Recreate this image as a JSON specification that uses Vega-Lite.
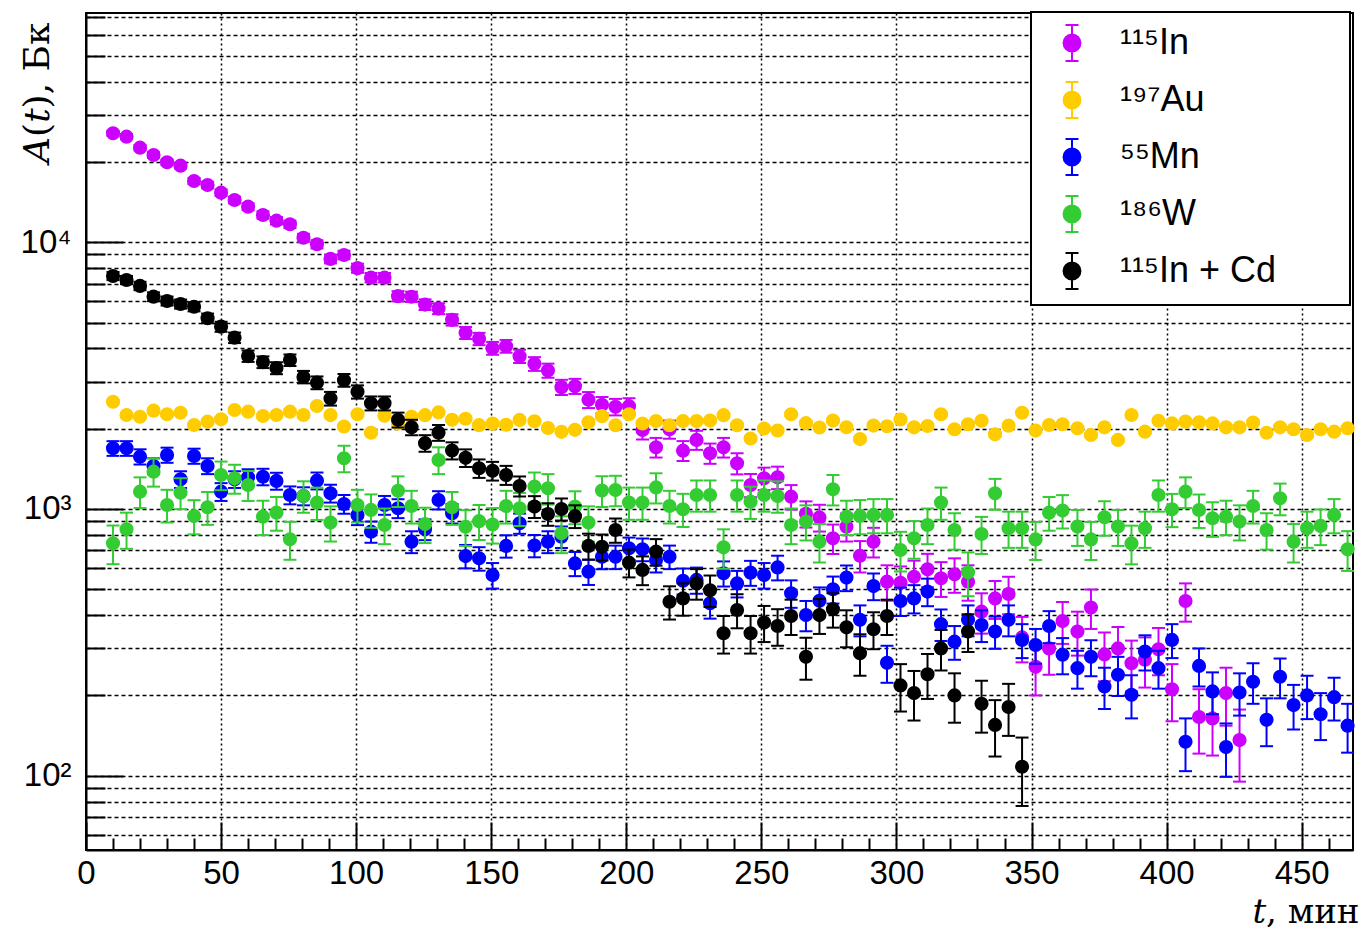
{
  "$schema": "https://vega.github.io/schema/vega-lite/v6.json",
  "width": 1267,
  "height": 837,
  "autosize": {"type": "none"},
  "padding": {"left": 86, "top": 13, "right": 15, "bottom": 79},
  "background": "white",
  "config": {
    "view": {"stroke": "black", "strokeWidth": 2},
    "font": "Liberation Sans"
  },
  "data": {"values": [
    {"s":"In","t":10,"v":25630,"e":560},{"s":"In","t":15,"v":24890,"e":553},{"s":"In","t":20,"v":22630,"e":527},{"s":"In","t":25,"v":21250,"e":510},{"s":"In","t":30,"v":19950,"e":494},{"s":"In","t":35,"v":19380,"e":487},{"s":"In","t":40,"v":16970,"e":456},{"s":"In","t":45,"v":16400,"e":448},{"s":"In","t":50,"v":15350,"e":434},{"s":"In","t":55,"v":14410,"e":420},{"s":"In","t":60,"v":13600,"e":408},{"s":"In","t":65.5,"v":12660,"e":394},{"s":"In","t":70.5,"v":12050,"e":384},{"s":"In","t":75.5,"v":11680,"e":378},{"s":"In","t":80.5,"v":10400,"e":357},{"s":"In","t":85.5,"v":9830,"e":347},{"s":"In","t":90.5,"v":8660,"e":326},{"s":"In","t":95.5,"v":8960,"e":331},{"s":"In","t":100.5,"v":8000,"e":313},{"s":"In","t":105.5,"v":7370,"e":300},{"s":"In","t":110.5,"v":7370,"e":300},{"s":"In","t":115.5,"v":6280,"e":277},{"s":"In","t":120.5,"v":6250,"e":277},{"s":"In","t":125.5,"v":5840,"e":267},{"s":"In","t":130.5,"v":5640,"e":263},{"s":"In","t":135.5,"v":5120,"e":250},{"s":"In","t":140.5,"v":4575,"e":237},{"s":"In","t":145.5,"v":4345,"e":231},{"s":"In","t":150.5,"v":4009,"e":222},{"s":"In","t":155.5,"v":4079,"e":224},{"s":"In","t":160.5,"v":3741,"e":214},{"s":"In","t":166,"v":3502,"e":207},{"s":"In","t":171,"v":3306,"e":201},{"s":"In","t":176,"v":2863,"e":187},{"s":"In","t":181,"v":2888,"e":188},{"s":"In","t":186,"v":2567,"e":177},{"s":"In","t":191,"v":2457,"e":174},{"s":"In","t":196,"v":2415,"e":172},{"s":"In","t":201,"v":2430,"e":172},{"s":"In","t":206,"v":1978,"e":156},{"s":"In","t":211,"v":1703,"e":144},{"s":"In","t":216,"v":1990,"e":156},{"s":"In","t":221,"v":1655,"e":142},{"s":"In","t":226,"v":1815,"e":149},{"s":"In","t":231,"v":1618,"e":141},{"s":"In","t":236,"v":1703,"e":144},{"s":"In","t":241,"v":1483,"e":135},{"s":"In","t":246,"v":1230,"e":123},{"s":"In","t":251,"v":1303,"e":126},{"s":"In","t":256,"v":1314,"e":127},{"s":"In","t":261,"v":1112,"e":117},{"s":"In","t":266.5,"v":960,"e":108},{"s":"In","t":271.5,"v":930,"e":107},{"s":"In","t":276.5,"v":776,"e":98},{"s":"In","t":281.5,"v":858,"e":103},{"s":"In","t":286.5,"v":668,"e":90},{"s":"In","t":291.5,"v":754,"e":96},{"s":"In","t":296.5,"v":534,"e":81},{"s":"In","t":301.5,"v":529,"e":80},{"s":"In","t":306.5,"v":557,"e":83},{"s":"In","t":311.5,"v":594,"e":85},{"s":"In","t":316.5,"v":550,"e":82},{"s":"In","t":321.5,"v":569,"e":84},{"s":"In","t":326.5,"v":534,"e":81},{"s":"In","t":331.5,"v":412,"e":71},{"s":"In","t":336.5,"v":462,"e":75},{"s":"In","t":341.5,"v":480,"e":77},{"s":"In","t":346.5,"v":330,"e":64},{"s":"In","t":351.5,"v":256,"e":56},{"s":"In","t":356.5,"v":300,"e":61},{"s":"In","t":361.5,"v":380,"e":68},{"s":"In","t":367,"v":347,"e":65},{"s":"In","t":372,"v":427,"e":72},{"s":"In","t":377,"v":285,"e":59},{"s":"In","t":382,"v":300,"e":61},{"s":"In","t":387,"v":264,"e":57},{"s":"In","t":392,"v":272,"e":58},{"s":"In","t":397,"v":298,"e":60},{"s":"In","t":402,"v":211,"e":51},{"s":"In","t":407,"v":452,"e":74},{"s":"In","t":412,"v":166,"e":45},{"s":"In","t":417,"v":164,"e":45},{"s":"In","t":422,"v":204,"e":50},{"s":"In","t":427,"v":136,"e":41},
    {"s":"Au","t":10,"v":2525,"e":38},{"s":"Au","t":15,"v":2252,"e":38},{"s":"Au","t":20,"v":2218,"e":38},{"s":"Au","t":25,"v":2337,"e":38},{"s":"Au","t":30,"v":2265,"e":38},{"s":"Au","t":35,"v":2296,"e":38},{"s":"Au","t":40,"v":2065,"e":36},{"s":"Au","t":45,"v":2125,"e":37},{"s":"Au","t":50,"v":2168,"e":37},{"s":"Au","t":55,"v":2351,"e":38},{"s":"Au","t":60,"v":2317,"e":38},{"s":"Au","t":65.5,"v":2232,"e":38},{"s":"Au","t":70.5,"v":2252,"e":38},{"s":"Au","t":75.5,"v":2317,"e":38},{"s":"Au","t":80.5,"v":2252,"e":38},{"s":"Au","t":85.5,"v":2434,"e":39},{"s":"Au","t":90.5,"v":2250,"e":38},{"s":"Au","t":95.5,"v":2038,"e":36},{"s":"Au","t":100.5,"v":2266,"e":38},{"s":"Au","t":105.5,"v":1932,"e":35},{"s":"Au","t":110.5,"v":2237,"e":38},{"s":"Au","t":115.5,"v":2092,"e":37},{"s":"Au","t":120.5,"v":2215,"e":38},{"s":"Au","t":125.5,"v":2248,"e":38},{"s":"Au","t":130.5,"v":2302,"e":38},{"s":"Au","t":135.5,"v":2160,"e":37},{"s":"Au","t":140.5,"v":2180,"e":37},{"s":"Au","t":145.5,"v":2062,"e":36},{"s":"Au","t":150.5,"v":2090,"e":37},{"s":"Au","t":155.5,"v":2070,"e":36},{"s":"Au","t":160.5,"v":2158,"e":37},{"s":"Au","t":166,"v":2133,"e":37},{"s":"Au","t":171,"v":2012,"e":36},{"s":"Au","t":176,"v":1946,"e":35},{"s":"Au","t":181,"v":1980,"e":36},{"s":"Au","t":186,"v":2113,"e":37},{"s":"Au","t":191,"v":2228,"e":38},{"s":"Au","t":196,"v":2061,"e":36},{"s":"Au","t":201,"v":2266,"e":38},{"s":"Au","t":206,"v":2092,"e":37},{"s":"Au","t":211,"v":2137,"e":37},{"s":"Au","t":216,"v":2061,"e":36},{"s":"Au","t":221,"v":2137,"e":37},{"s":"Au","t":226,"v":2137,"e":37},{"s":"Au","t":231,"v":2145,"e":37},{"s":"Au","t":236,"v":2248,"e":38},{"s":"Au","t":241,"v":2061,"e":36},{"s":"Au","t":246,"v":1837,"e":34},{"s":"Au","t":251,"v":2003,"e":36},{"s":"Au","t":256,"v":1970,"e":36},{"s":"Au","t":261,"v":2266,"e":38},{"s":"Au","t":266.5,"v":2098,"e":37},{"s":"Au","t":271.5,"v":2020,"e":36},{"s":"Au","t":276.5,"v":2145,"e":37},{"s":"Au","t":281.5,"v":2026,"e":36},{"s":"Au","t":286.5,"v":1829,"e":34},{"s":"Au","t":291.5,"v":2055,"e":36},{"s":"Au","t":296.5,"v":2043,"e":36},{"s":"Au","t":301.5,"v":2166,"e":37},{"s":"Au","t":306.5,"v":2024,"e":36},{"s":"Au","t":311.5,"v":2047,"e":36},{"s":"Au","t":316.5,"v":2265,"e":38},{"s":"Au","t":321.5,"v":1990,"e":36},{"s":"Au","t":326.5,"v":2078,"e":36},{"s":"Au","t":331.5,"v":2143,"e":37},{"s":"Au","t":336.5,"v":1905,"e":35},{"s":"Au","t":341.5,"v":2053,"e":36},{"s":"Au","t":346.5,"v":2296,"e":38},{"s":"Au","t":351.5,"v":1968,"e":35},{"s":"Au","t":356.5,"v":2065,"e":36},{"s":"Au","t":361.5,"v":2078,"e":36},{"s":"Au","t":367,"v":2007,"e":36},{"s":"Au","t":372,"v":1894,"e":35},{"s":"Au","t":377,"v":2024,"e":36},{"s":"Au","t":382,"v":1815,"e":34},{"s":"Au","t":387,"v":2252,"e":38},{"s":"Au","t":392,"v":1950,"e":35},{"s":"Au","t":397,"v":2143,"e":37},{"s":"Au","t":402,"v":2094,"e":37},{"s":"Au","t":407,"v":2126,"e":37},{"s":"Au","t":412,"v":2113,"e":37},{"s":"Au","t":417,"v":2094,"e":37},{"s":"Au","t":422,"v":2024,"e":36},{"s":"Au","t":427,"v":2024,"e":36},{"s":"Au","t":432,"v":2109,"e":37},{"s":"Au","t":437,"v":1932,"e":35},{"s":"Au","t":442,"v":2024,"e":36},{"s":"Au","t":447,"v":1990,"e":36},{"s":"Au","t":452,"v":1894,"e":35},{"s":"Au","t":457,"v":1990,"e":36},{"s":"Au","t":462,"v":1950,"e":35},{"s":"Au","t":467,"v":2007,"e":36},
    {"s":"Mn","t":10,"v":1689,"e":107},{"s":"Mn","t":15,"v":1689,"e":107},{"s":"Mn","t":20,"v":1571,"e":103},{"s":"Mn","t":25,"v":1450,"e":99},{"s":"Mn","t":30,"v":1594,"e":104},{"s":"Mn","t":35,"v":1292,"e":93},{"s":"Mn","t":40,"v":1580,"e":103},{"s":"Mn","t":45,"v":1450,"e":99},{"s":"Mn","t":50,"v":1161,"e":89},{"s":"Mn","t":55,"v":1292,"e":93},{"s":"Mn","t":60,"v":1315,"e":94},{"s":"Mn","t":65.5,"v":1321,"e":94},{"s":"Mn","t":70.5,"v":1274,"e":93},{"s":"Mn","t":75.5,"v":1128,"e":87},{"s":"Mn","t":80.5,"v":1119,"e":87},{"s":"Mn","t":85.5,"v":1277,"e":93},{"s":"Mn","t":90.5,"v":1145,"e":88},{"s":"Mn","t":95.5,"v":1044,"e":84},{"s":"Mn","t":100.5,"v":950,"e":80},{"s":"Mn","t":105.5,"v":822,"e":75},{"s":"Mn","t":110.5,"v":1035,"e":84},{"s":"Mn","t":115.5,"v":1006,"e":82},{"s":"Mn","t":120.5,"v":754,"e":71},{"s":"Mn","t":125.5,"v":839,"e":75},{"s":"Mn","t":130.5,"v":1081,"e":85},{"s":"Mn","t":135.5,"v":963,"e":81},{"s":"Mn","t":140.5,"v":666,"e":67},{"s":"Mn","t":145.5,"v":653,"e":66},{"s":"Mn","t":150.5,"v":565,"e":62},{"s":"Mn","t":155.5,"v":727,"e":70},{"s":"Mn","t":160.5,"v":884,"e":77},{"s":"Mn","t":166,"v":729,"e":70},{"s":"Mn","t":171,"v":754,"e":71},{"s":"Mn","t":176,"v":787,"e":73},{"s":"Mn","t":181,"v":625,"e":65},{"s":"Mn","t":186,"v":582,"e":63},{"s":"Mn","t":191,"v":662,"e":67},{"s":"Mn","t":196,"v":662,"e":67},{"s":"Mn","t":201,"v":712,"e":69},{"s":"Mn","t":206,"v":706,"e":69},{"s":"Mn","t":211,"v":644,"e":66},{"s":"Mn","t":216,"v":662,"e":67},{"s":"Mn","t":221,"v":538,"e":60},{"s":"Mn","t":226,"v":542,"e":61},{"s":"Mn","t":231,"v":443,"e":55},{"s":"Mn","t":236,"v":574,"e":62},{"s":"Mn","t":241,"v":526,"e":60},{"s":"Mn","t":246,"v":577,"e":62},{"s":"Mn","t":251,"v":565,"e":62},{"s":"Mn","t":256,"v":604,"e":64},{"s":"Mn","t":261,"v":483,"e":57},{"s":"Mn","t":266.5,"v":400,"e":52},{"s":"Mn","t":271.5,"v":453,"e":55},{"s":"Mn","t":276.5,"v":500,"e":58},{"s":"Mn","t":281.5,"v":553,"e":61},{"s":"Mn","t":286.5,"v":384,"e":51},{"s":"Mn","t":291.5,"v":514,"e":59},{"s":"Mn","t":296.5,"v":265,"e":42},{"s":"Mn","t":301.5,"v":452,"e":55},{"s":"Mn","t":306.5,"v":462,"e":56},{"s":"Mn","t":311.5,"v":490,"e":58},{"s":"Mn","t":316.5,"v":370,"e":50},{"s":"Mn","t":321.5,"v":318,"e":46},{"s":"Mn","t":326.5,"v":384,"e":51},{"s":"Mn","t":331.5,"v":367,"e":50},{"s":"Mn","t":336.5,"v":347,"e":48},{"s":"Mn","t":341.5,"v":384,"e":51},{"s":"Mn","t":346.5,"v":323,"e":47},{"s":"Mn","t":351.5,"v":309,"e":46},{"s":"Mn","t":356.5,"v":364,"e":50},{"s":"Mn","t":361.5,"v":284,"e":44},{"s":"Mn","t":367,"v":253,"e":41},{"s":"Mn","t":372,"v":279,"e":43},{"s":"Mn","t":377,"v":216,"e":38},{"s":"Mn","t":382,"v":239,"e":40},{"s":"Mn","t":387,"v":201,"e":37},{"s":"Mn","t":392,"v":292,"e":44},{"s":"Mn","t":397,"v":253,"e":41},{"s":"Mn","t":402,"v":323,"e":47},{"s":"Mn","t":407,"v":134,"e":30},{"s":"Mn","t":412,"v":258,"e":42},{"s":"Mn","t":417,"v":207,"e":37},{"s":"Mn","t":422,"v":128,"e":29},{"s":"Mn","t":427,"v":205,"e":37},{"s":"Mn","t":432,"v":225,"e":39},{"s":"Mn","t":437,"v":162,"e":33},{"s":"Mn","t":442,"v":235,"e":40},{"s":"Mn","t":447,"v":184,"e":35},{"s":"Mn","t":452,"v":200,"e":37},{"s":"Mn","t":457,"v":170,"e":34},{"s":"Mn","t":462,"v":197,"e":36},{"s":"Mn","t":467,"v":154,"e":32},
    {"s":"W","t":10,"v":744,"e":123},{"s":"W","t":15,"v":839,"e":130},{"s":"W","t":20,"v":1161,"e":153},{"s":"W","t":25,"v":1380,"e":167},{"s":"W","t":30,"v":1035,"e":145},{"s":"W","t":35,"v":1151,"e":153},{"s":"W","t":40,"v":941,"e":138},{"s":"W","t":45,"v":1015,"e":143},{"s":"W","t":50,"v":1341,"e":165},{"s":"W","t":55,"v":1303,"e":162},{"s":"W","t":60,"v":1230,"e":158},{"s":"W","t":65.5,"v":936,"e":138},{"s":"W","t":70.5,"v":969,"e":140},{"s":"W","t":75.5,"v":770,"e":125},{"s":"W","t":80.5,"v":1119,"e":151},{"s":"W","t":85.5,"v":1056,"e":146},{"s":"W","t":90.5,"v":889,"e":134},{"s":"W","t":95.5,"v":1549,"e":177},{"s":"W","t":100.5,"v":1035,"e":145},{"s":"W","t":105.5,"v":992,"e":142},{"s":"W","t":110.5,"v":871,"e":133},{"s":"W","t":115.5,"v":1171,"e":154},{"s":"W","t":120.5,"v":1026,"e":144},{"s":"W","t":125.5,"v":878,"e":133},{"s":"W","t":130.5,"v":1527,"e":176},{"s":"W","t":135.5,"v":1015,"e":143},{"s":"W","t":140.5,"v":858,"e":132},{"s":"W","t":145.5,"v":900,"e":135},{"s":"W","t":150.5,"v":875,"e":133},{"s":"W","t":155.5,"v":1026,"e":144},{"s":"W","t":160.5,"v":1006,"e":143},{"s":"W","t":166,"v":1213,"e":157},{"s":"W","t":171,"v":1195,"e":156},{"s":"W","t":176,"v":811,"e":128},{"s":"W","t":181,"v":1021,"e":144},{"s":"W","t":186,"v":889,"e":134},{"s":"W","t":191,"v":1172,"e":154},{"s":"W","t":196,"v":1178,"e":154},{"s":"W","t":201,"v":1057,"e":146},{"s":"W","t":206,"v":1057,"e":146},{"s":"W","t":211,"v":1205,"e":156},{"s":"W","t":216,"v":1026,"e":144},{"s":"W","t":221,"v":998,"e":142},{"s":"W","t":226,"v":1128,"e":151},{"s":"W","t":231,"v":1128,"e":151},{"s":"W","t":236,"v":718,"e":121},{"s":"W","t":241,"v":1128,"e":151},{"s":"W","t":246,"v":1065,"e":147},{"s":"W","t":251,"v":1128,"e":151},{"s":"W","t":256,"v":1119,"e":151},{"s":"W","t":261,"v":871,"e":133},{"s":"W","t":266.5,"v":897,"e":135},{"s":"W","t":271.5,"v":754,"e":124},{"s":"W","t":276.5,"v":1186,"e":155},{"s":"W","t":281.5,"v":936,"e":138},{"s":"W","t":286.5,"v":942,"e":138},{"s":"W","t":291.5,"v":950,"e":139},{"s":"W","t":296.5,"v":950,"e":139},{"s":"W","t":301.5,"v":702,"e":119},{"s":"W","t":306.5,"v":776,"e":125},{"s":"W","t":311.5,"v":871,"e":133},{"s":"W","t":316.5,"v":1057,"e":146},{"s":"W","t":321.5,"v":834,"e":130},{"s":"W","t":326.5,"v":579,"e":108},{"s":"W","t":331.5,"v":806,"e":128},{"s":"W","t":336.5,"v":1145,"e":152},{"s":"W","t":341.5,"v":846,"e":131},{"s":"W","t":346.5,"v":846,"e":131},{"s":"W","t":351.5,"v":769,"e":125},{"s":"W","t":356.5,"v":969,"e":140},{"s":"W","t":361.5,"v":986,"e":141},{"s":"W","t":367,"v":859,"e":132},{"s":"W","t":372,"v":769,"e":125},{"s":"W","t":377,"v":931,"e":137},{"s":"W","t":382,"v":859,"e":132},{"s":"W","t":387,"v":743,"e":123},{"s":"W","t":392,"v":846,"e":131},{"s":"W","t":397,"v":1128,"e":151},{"s":"W","t":402,"v":997,"e":142},{"s":"W","t":407,"v":1161,"e":153},{"s":"W","t":412,"v":991,"e":142},{"s":"W","t":417,"v":923,"e":137},{"s":"W","t":422,"v":936,"e":138},{"s":"W","t":427,"v":897,"e":135},{"s":"W","t":432,"v":1026,"e":144},{"s":"W","t":437,"v":834,"e":130},{"s":"W","t":442,"v":1096,"e":149},{"s":"W","t":447,"v":754,"e":124},{"s":"W","t":452,"v":846,"e":131},{"s":"W","t":457,"v":864,"e":132},{"s":"W","t":462,"v":950,"e":139},{"s":"W","t":467,"v":706,"e":120},
    {"s":"Cd","t":10,"v":7477,"e":260},{"s":"Cd","t":15,"v":7223,"e":255},{"s":"Cd","t":20,"v":6860,"e":248},{"s":"Cd","t":25,"v":6252,"e":237},{"s":"Cd","t":30,"v":6026,"e":233},{"s":"Cd","t":35,"v":5869,"e":230},{"s":"Cd","t":40,"v":5734,"e":227},{"s":"Cd","t":45,"v":5188,"e":216},{"s":"Cd","t":50,"v":4826,"e":208},{"s":"Cd","t":55,"v":4388,"e":199},{"s":"Cd","t":60,"v":3744,"e":184},{"s":"Cd","t":65.5,"v":3554,"e":179},{"s":"Cd","t":70.5,"v":3376,"e":174},{"s":"Cd","t":75.5,"v":3616,"e":180},{"s":"Cd","t":80.5,"v":3126,"e":168},{"s":"Cd","t":85.5,"v":2976,"e":164},{"s":"Cd","t":90.5,"v":2595,"e":153},{"s":"Cd","t":95.5,"v":3040,"e":165},{"s":"Cd","t":100.5,"v":2750,"e":157},{"s":"Cd","t":105.5,"v":2492,"e":150},{"s":"Cd","t":110.5,"v":2492,"e":150},{"s":"Cd","t":115.5,"v":2159,"e":139},{"s":"Cd","t":120.5,"v":2025,"e":135},{"s":"Cd","t":125.5,"v":1765,"e":126},{"s":"Cd","t":130.5,"v":1933,"e":132},{"s":"Cd","t":135.5,"v":1656,"e":122},{"s":"Cd","t":140.5,"v":1555,"e":118},{"s":"Cd","t":145.5,"v":1421,"e":113},{"s":"Cd","t":150.5,"v":1390,"e":112},{"s":"Cd","t":155.5,"v":1341,"e":110},{"s":"Cd","t":160.5,"v":1219,"e":105},{"s":"Cd","t":166,"v":1021,"e":96},{"s":"Cd","t":171,"v":958,"e":93},{"s":"Cd","t":176,"v":1000,"e":95},{"s":"Cd","t":181,"v":940,"e":92},{"s":"Cd","t":186,"v":727,"e":81},{"s":"Cd","t":191,"v":722,"e":81},{"s":"Cd","t":196,"v":834,"e":87},{"s":"Cd","t":201,"v":629,"e":75},{"s":"Cd","t":206,"v":591,"e":73},{"s":"Cd","t":211,"v":692,"e":79},{"s":"Cd","t":216,"v":449,"e":64},{"s":"Cd","t":221,"v":462,"e":64},{"s":"Cd","t":226,"v":526,"e":69},{"s":"Cd","t":231,"v":496,"e":67},{"s":"Cd","t":236,"v":342,"e":55},{"s":"Cd","t":241,"v":418,"e":61},{"s":"Cd","t":246,"v":342,"e":55},{"s":"Cd","t":251,"v":375,"e":58},{"s":"Cd","t":256,"v":364,"e":57},{"s":"Cd","t":261,"v":397,"e":60},{"s":"Cd","t":266.5,"v":279,"e":50},{"s":"Cd","t":271.5,"v":400,"e":60},{"s":"Cd","t":276.5,"v":421,"e":62},{"s":"Cd","t":281.5,"v":360,"e":57},{"s":"Cd","t":286.5,"v":288,"e":51},{"s":"Cd","t":291.5,"v":354,"e":56},{"s":"Cd","t":296.5,"v":397,"e":60},{"s":"Cd","t":301.5,"v":218,"e":44},{"s":"Cd","t":306.5,"v":204,"e":43},{"s":"Cd","t":311.5,"v":240,"e":46},{"s":"Cd","t":316.5,"v":300,"e":52},{"s":"Cd","t":321.5,"v":200,"e":42},{"s":"Cd","t":326.5,"v":347,"e":56},{"s":"Cd","t":331.5,"v":186,"e":41},{"s":"Cd","t":336.5,"v":155,"e":37},{"s":"Cd","t":341.5,"v":181,"e":40},{"s":"Cd","t":346.5,"v":108,"e":31}
  ]},
  "encoding": {
    "x": {
      "field": "t", "type": "quantitative",
      "scale": {"domain": [0, 469], "nice": false, "zero": false},
      "axis": {
        "values": [0,10,20,30,40,50,60,70,80,90,100,110,120,130,140,150,160,170,180,190,200,210,220,230,240,250,260,270,280,290,300,310,320,330,340,350,360,370,380,390,400,410,420,430,440,450,460],
        "labelExpr": "datum.value % 50 == 0 ? datum.label : ''",
        "labelFlush": false,
        "labelOverlap": false,
        "labelFont": "Liberation Sans",
        "labelFontSize": 33,
        "labelColor": "black",
        "labelPadding": 35,
        "tickSize": {"condition": {"test": "datum.value % 50 == 0", "value": -28}, "value": -12},
        "tickColor": "black",
        "tickWidth": 2,
        "domainColor": "black",
        "domainWidth": 2,
        "grid": true,
        "gridColor": "black",
        "gridWidth": 1.5,
        "gridDash": [2, 3],
        "gridOpacity": {"condition": {"test": "datum.value % 50 == 0 && datum.value > 0", "value": 1}, "value": 0},
        "title": "𝑡, мин",
        "titleFont": "DejaVu Serif",
        "titleFontSize": 34,
        "titleFontWeight": "normal",
        "titleColor": "black",
        "titleAnchor": "end",
        "titleAlign": "right",
        "titleBaseline": "alphabetic",
        "titleX": 1273,
        "titleY": 72
      }
    },
    "y": {
      "field": "v", "type": "quantitative",
      "scale": {"type": "log", "domain": [52.65, 72390], "nice": false},
      "axis": {
        "values": [60,70,80,90,100,200,300,400,500,600,700,800,900,1000,2000,3000,4000,5000,6000,7000,8000,9000,10000,20000,30000,40000,50000,60000,70000],
        "labelExpr": "datum.value == 100 ? '10²' : datum.value == 1000 ? '10³' : datum.value == 10000 ? '10⁴' : ''",
        "labelOverlap": false,
        "labelFont": "Liberation Sans",
        "labelFontSize": 33,
        "labelColor": "black",
        "labelPadding": 52,
        "tickSize": {"condition": {"test": "datum.value == 100 || datum.value == 1000 || datum.value == 10000", "value": -37}, "value": -19},
        "tickColor": "black",
        "tickWidth": 2,
        "domainColor": "black",
        "domainWidth": 2,
        "grid": true,
        "gridColor": "black",
        "gridWidth": 1.5,
        "gridDash": [4, 3],
        "gridOpacity": 1,
        "title": "𝐴(𝑡), Бк",
        "titleFont": "DejaVu Serif",
        "titleFontSize": 36,
        "titleFontWeight": "normal",
        "titleColor": "black",
        "titleAnchor": "end",
        "titleAlign": "right",
        "titleBaseline": "middle",
        "titleX": -49,
        "titleY": 9
      }
    },
    "color": {
      "field": "s", "type": "nominal",
      "scale": {"domain": ["In","Au","Mn","W","Cd"], "range": ["#cc00ff","#ffcc00","#0000ff","#33cc33","#000000"]},
      "legend": {
        "orient": "none",
        "legendX": 945,
        "legendY": -1,
        "title": null,
        "labelExpr": "datum.label == 'In' ? '¹¹⁵In' : datum.label == 'Au' ? '¹⁹⁷Au' : datum.label == 'Mn' ? '⁵⁵Mn' : datum.label == 'W' ? '¹⁸⁶W' : '¹¹⁵In + Cd\u00a0\u2800\u2800'",
        "labelFont": "Liberation Sans",
        "labelFontSize": 36,
        "labelColor": "black",
        "labelOffset": 29,
        "labelLimit": 500,
        "symbolType": "M0,-1L0,1M-0.36,-1L0.36,-1M-0.36,1L0.36,1M0.47,0A0.47,0.47,0,1,1,-0.47,0A0.47,0.47,0,1,1,0.47,0Z",
        "symbolSize": 1296,
        "symbolStrokeWidth": 2,
        "symbolOffset": 10,
        "rowPadding": 13,
        "padding": 12,
        "strokeColor": "black",
        "fillColor": "white",
        "encode": {
          "legend": {"update": {"strokeWidth": {"value": 2}}},
          "symbols": {"update": {"fill": {"scale": "color", "field": "value"}, "stroke": {"scale": "color", "field": "value"}, "strokeWidth": {"value": 2}, "opacity": {"value": 1}}}
        }
      }
    }
  },
  "layer": [
    {"transform": [{"filter": "datum.s == 'In'"}], "mark": {"type": "errorbar", "ticks": {"size": 13, "thickness": 2, "opacity": 1}, "rule": {"strokeWidth": 2}}, "encoding": {"yError": {"field": "e"}}},
    {"transform": [{"filter": "datum.s == 'In'"}], "mark": {"type": "circle", "size": 200, "opacity": 1}},
    {"transform": [{"filter": "datum.s == 'Au'"}], "mark": {"type": "errorbar", "ticks": {"size": 13, "thickness": 2, "opacity": 1}, "rule": {"strokeWidth": 2}}, "encoding": {"yError": {"field": "e"}}},
    {"transform": [{"filter": "datum.s == 'Au'"}], "mark": {"type": "circle", "size": 200, "opacity": 1}},
    {"transform": [{"filter": "datum.s == 'Mn'"}], "mark": {"type": "errorbar", "ticks": {"size": 13, "thickness": 2, "opacity": 1}, "rule": {"strokeWidth": 2}}, "encoding": {"yError": {"field": "e"}}},
    {"transform": [{"filter": "datum.s == 'Mn'"}], "mark": {"type": "circle", "size": 200, "opacity": 1}},
    {"transform": [{"filter": "datum.s == 'W'"}], "mark": {"type": "errorbar", "ticks": {"size": 13, "thickness": 2, "opacity": 1}, "rule": {"strokeWidth": 2}}, "encoding": {"yError": {"field": "e"}}},
    {"transform": [{"filter": "datum.s == 'W'"}], "mark": {"type": "circle", "size": 200, "opacity": 1}},
    {"transform": [{"filter": "datum.s == 'Cd'"}], "mark": {"type": "errorbar", "ticks": {"size": 13, "thickness": 2, "opacity": 1}, "rule": {"strokeWidth": 2}}, "encoding": {"yError": {"field": "e"}}},
    {"transform": [{"filter": "datum.s == 'Cd'"}], "mark": {"type": "circle", "size": 200, "opacity": 1}}
  ]
}
